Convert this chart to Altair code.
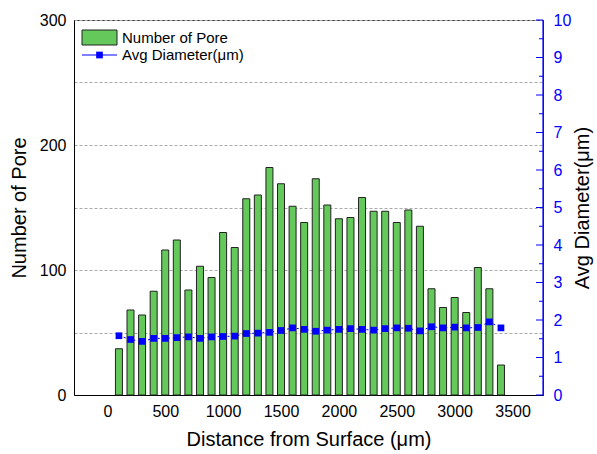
import altair as alt
import pandas as pd

distance = list(range(100, 3500, 100))
pores = [37, 68, 64, 83, 116, 124, 84, 103, 94, 130, 118, 157, 160, 182, 169, 151, 138,
         173, 152, 141, 142, 158, 147, 147, 138, 148, 135, 85, 70, 78, 66, 102, 85, 24]
diam = [1.58, 1.48, 1.43, 1.51, 1.51, 1.53, 1.55, 1.51, 1.55, 1.56, 1.57, 1.64, 1.65, 1.67,
        1.72, 1.79, 1.75, 1.70, 1.73, 1.75, 1.77, 1.75, 1.73, 1.77, 1.79, 1.78, 1.71, 1.82,
        1.79, 1.81, 1.79, 1.80, 1.95, 1.79]
x_ticks = [0, 500, 1000, 1500, 2000, 2500, 3000, 3500]
left_ticks = [0, 50, 100, 150, 200, 250, 300]
right_major = list(range(0, 11))
right_minor = [i + 0.5 for i in range(10)]
legend_labels = ["Number of Pore", "Avg Diameter(μm)"]

W, H = 469, 375
FONT = "Liberation Sans"
GREEN = "#64c85a"
BLUE = "#0000ff"

df = pd.DataFrame({"distance": distance, "pores": pores, "diam": diam})
maj = pd.DataFrame({"v": right_major})
mino = pd.DataFrame({"v": right_minor})
leg = pd.DataFrame({"label": legend_labels})

xscale = alt.Scale(domain=[-245, 3720], nice=False, zero=False)
xenc = alt.X("distance:Q", scale=xscale,
             axis=alt.Axis(values=x_ticks, title="Distance from Surface (μm)", grid=False,
                           format="d", labelOverlap=False,
                           ticks=False, labelPadding=8, titlePadding=10,
                           domainColor="black", labelColor="black"))

bars = alt.Chart(df).mark_bar(size=7, fill=GREEN, stroke="#222222", strokeWidth=1).encode(
    x=xenc,
    y=alt.Y("pores:Q", scale=alt.Scale(domain=[0, 300], nice=False),
            axis=alt.Axis(values=left_ticks, title="Number of Pore",
                          labelExpr="datum.value % 100 == 0 ? datum.label : ''",
                          labelOverlap=False,
                          grid=True, gridColor="#aaaaaa", gridDash=[3, 2], gridWidth=1,
                          ticks=False, labelPadding=8, titlePadding=10,
                          domainColor="black", labelColor="black")),
)

leg_rect = alt.Chart(leg.iloc[[0]]).mark_rect(fill=GREEN, stroke="#222222", strokeWidth=1).encode(
    x=alt.value(8), x2=alt.value(43), y=alt.value(10), y2=alt.value(25))
leg_line = alt.Chart(leg.iloc[[1]]).mark_rule(color=BLUE, strokeWidth=1).encode(
    x=alt.value(8), x2=alt.value(43), y=alt.value(35))
leg_pt = alt.Chart(leg.iloc[[1]]).mark_square(color=BLUE, opacity=1, size=45).encode(
    x=alt.value(25.5), y=alt.value(35))
leg_t1 = alt.Chart(leg.iloc[[0]]).mark_text(align="left", baseline="middle", font=FONT,
                                            fontSize=15, color="black").encode(
    x=alt.value(48), y=alt.value(17.5), text="label:N")
leg_t2 = alt.Chart(leg.iloc[[1]]).mark_text(align="left", baseline="middle", font=FONT,
                                            fontSize=15, color="black").encode(
    x=alt.value(48), y=alt.value(35), text="label:N")

left = alt.layer(bars, leg_rect, leg_line, leg_pt, leg_t1, leg_t2)

ry = alt.Scale(domain=[0, 10], nice=False)
rax = alt.Axis(orient="right", values=right_major, title="Avg Diameter(μm)",
               titleAngle=270, titleColor="black", labelColor=BLUE,
               labelOverlap=False, labelBound=False,
               domain=False, ticks=False, grid=False, labelPadding=10,
               titlePadding=22)

line = alt.Chart(df).mark_line(color=BLUE, strokeWidth=1, strokeDash=[2, 3]).encode(
    x=alt.X("distance:Q", scale=xscale),
    y=alt.Y("diam:Q", scale=ry, axis=rax, title="Avg Diameter(μm)"),
)
pts = alt.Chart(df).mark_square(color=BLUE, opacity=1, size=45).encode(
    x=alt.X("distance:Q", scale=xscale),
    y=alt.Y("diam:Q", scale=ry, axis=rax, title="Avg Diameter(μm)"))
edge = alt.Chart(maj.iloc[[0]]).mark_rule(color=BLUE, strokeWidth=1.2).encode(
    x=alt.value(W), y=alt.value(0), y2=alt.value(H))
tmaj = alt.Chart(maj).mark_rule(color=BLUE, strokeWidth=1).encode(
    x=alt.value(W - 7), x2=alt.value(W),
    y=alt.Y("v:Q", scale=ry, axis=rax, title="Avg Diameter(μm)"))
tmin = alt.Chart(mino).mark_rule(color=BLUE, strokeWidth=1).encode(
    x=alt.value(W - 4), x2=alt.value(W),
    y=alt.Y("v:Q", scale=ry, axis=rax, title="Avg Diameter(μm)"))

right = alt.layer(line, pts, tmaj, tmin, edge)

chart = alt.layer(left, right).resolve_scale(y="independent").properties(
    width=W, height=H,
    autosize=alt.AutoSizeParams(type="none"),
    padding={"left": 74, "top": 20, "right": 54, "bottom": 59},
).configure_view(stroke="#333333", strokeWidth=1).configure_axis(
    labelFont=FONT, titleFont=FONT, labelFontSize=16, titleFontSize=20,
    titleFontWeight="normal", titleColor="black",
)

chart.save("out.html", embed_options={"renderer": "svg", "actions": False})
